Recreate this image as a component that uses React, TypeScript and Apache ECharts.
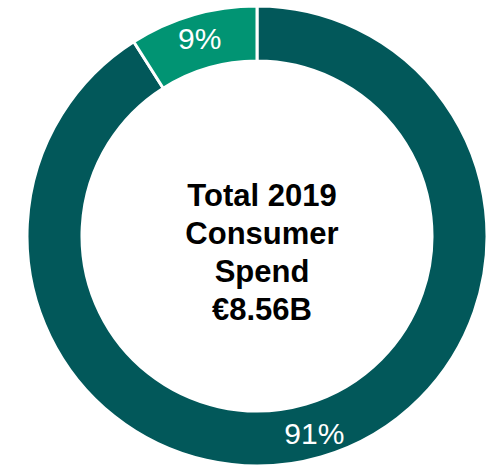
import React, { useEffect, useRef } from "react";
import * as echarts from "echarts";

const categories = ["Rest of spend", "Segment"];
const values = [91, 9];
const colors = ["#02585A", "#019473"];
const centerLines = ["Total 2019", "Consumer", "Spend", "€8.56B"];

export default function App() {
  const ref = useRef<HTMLDivElement>(null);
  useEffect(() => {
    document.body.style.margin = "0";
    const chart = echarts.init(ref.current!, undefined, { renderer: "svg" });
    chart.setOption({
      animation: false,
      graphic: [
        {
          type: "text",
          x: 262,
          y: 252,
          style: {
            text: centerLines.join("\n"),
            fill: "#000000",
            font: "bold 31px 'Liberation Sans', Arial, sans-serif",
            lineHeight: 38,
            align: "center",
            verticalAlign: "middle",
          },
        },
      ],
      series: [
        {
          type: "pie",
          center: [257, 236],
          radius: [175, 230],
          startAngle: 90,
          clockwise: true,
          avoidLabelOverlap: false,
          itemStyle: { borderColor: "#ffffff", borderWidth: 3 },
          label: {
            show: true,
            position: "inside",
            formatter: "{c}%",
            color: "#ffffff",
            fontSize: 30,
            fontFamily: "'Liberation Sans', Arial, sans-serif",
            textBorderWidth: 0,
          },
          labelLine: { show: false },
          emphasis: { disabled: true },
          data: categories.map((name, i) => ({
            name,
            value: values[i],
            itemStyle: { color: colors[i] },
          })),
        },
      ],
    });
    return () => chart.dispose();
  }, []);
  return <div ref={ref} style={{ width: 495, height: 465 }} />;
}
